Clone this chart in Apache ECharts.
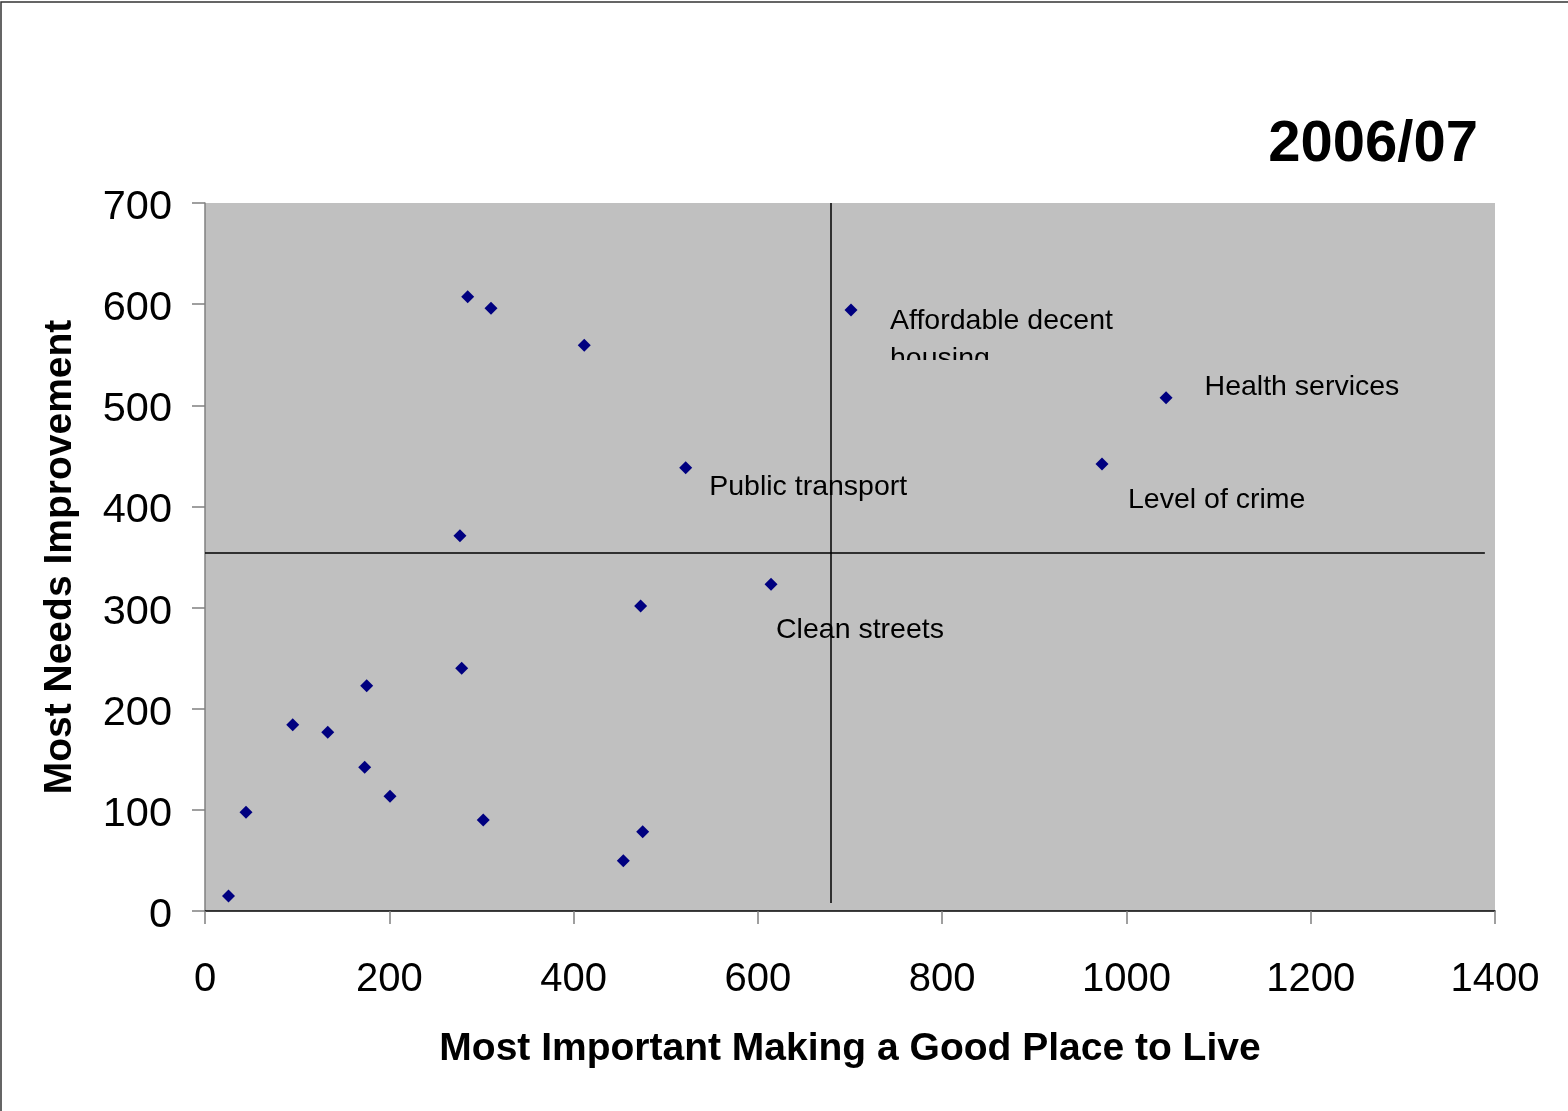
<!DOCTYPE html>
<html>
<head>
<meta charset="utf-8">
<script src="https://cdn.jsdelivr.net/npm/echarts@6/dist/echarts.min.js"></script>
<style>
html,body{margin:0;padding:0;background:#fff;}
#chart{width:1568px;height:1111px;}
</style>
</head>
<body>
<div id="chart"></div>
<script>
// ---- data ----
const xValues = [25.5, 44.5, 95.2, 133.2, 173.3, 175.5, 200.8, 276.7, 278.6, 285.1, 302.0, 310.4, 411.6, 454.0, 472.8, 475.0, 521.7, 614.3, 701.1, 973.5, 1043.0];
const yValues = [14.8, 97.6, 184.2, 176.7, 142.1, 222.8, 113.4, 371.1, 240.0, 607.4, 90.0, 595.9, 559.3, 49.7, 301.6, 78.4, 438.3, 323.0, 594.2, 442.0, 507.5];
const pointNames = ['', '', '', '', '', '', '', '', '', '', '', '', '', '', '', '', 'Public transport', 'Clean streets', 'Affordable decent\nhousing', 'Level of crime', 'Health services'];
const xTicks = [0, 200, 400, 600, 800, 1000, 1200, 1400];
const yTicks = [0, 100, 200, 300, 400, 500, 600, 700];
const refX = 679.6;   // vertical divider
const refY = 354;     // horizontal divider
const titleText = '2006/07';
const xTitle = 'Most Important Making a Good Place to Live';
const yTitle = 'Most Needs Improvement';

// ---- styling ----
const FONT = '"Liberation Sans", Arial, sans-serif';
const labelOffsets = {
  'Public transport': [17, 19],
  'Clean streets': [-1.5, 46],
  'Level of crime': [19.5, 36],
  'Health services': [32, -10.5]
};

const scatterData = xValues.map((x, i) => {
  const name = pointNames[i];
  const item = { value: [x, yValues[i]], name: name };
  if (name && labelOffsets[name]) {
    item.label = {
      show: true,
      position: 'right',
      distance: 0,
      offset: labelOffsets[name],
      formatter: '{b}',
      fontSize: 28.5,
      fontFamily: FONT,
      color: '#000'
    };
  }
  return item;
});

const clippedIdx = pointNames.indexOf('Affordable decent\nhousing');

const chart = echarts.init(document.getElementById('chart'), null, { renderer: 'canvas' });
chart.setOption({
  animation: false,
  backgroundColor: '#fff',
  textStyle: { fontFamily: FONT },
  graphic: [
    {
      type: 'rect', silent: true, z: 100,
      shape: { x: 1, y: 2, width: 1700, height: 1300 },
      style: { fill: 'none', stroke: '#333', lineWidth: 1.5 }
    },
    {
      type: 'text', right: 90, top: 116,
      style: { text: titleText, font: 'bold 58px ' + FONT, fill: '#000' }
    }
  ],
  grid: { left: 205, top: 203, right: 73, bottom: 200, show: true, backgroundColor: '#C0C0C0', borderWidth: 0 },
  xAxis: {
    type: 'value', min: xTicks[0], max: xTicks[xTicks.length - 1], interval: 200,
    name: xTitle, nameLocation: 'middle', nameGap: 119,
    nameTextStyle: { fontSize: 39, fontWeight: 'bold', color: '#000', fontFamily: FONT },
    axisLine: { show: true, onZero: false, lineStyle: { color: '#000', width: 1.5 } },
    axisTick: { show: true, length: 13, lineStyle: { color: '#808080', width: 1.5 } },
    axisLabel: { fontSize: 40, color: '#000', margin: 49, fontFamily: FONT, formatter: function (v) { return String(v); } },
    splitLine: { show: false }
  },
  yAxis: {
    type: 'value', min: yTicks[0], max: yTicks[yTicks.length - 1], interval: 100,
    name: yTitle, nameLocation: 'middle', nameGap: 125,
    nameTextStyle: { fontSize: 39, fontWeight: 'bold', color: '#000', fontFamily: FONT },
    axisLine: { show: true, onZero: false, lineStyle: { color: '#808080', width: 1.5 } },
    axisTick: { show: true, length: 13, lineStyle: { color: '#808080', width: 1.5 } },
    axisLabel: {
      color: '#000', margin: 33, fontFamily: FONT,
      formatter: function (v) { return '{t|' + v + '}'; },
      rich: { t: { fontSize: 41.5, fontFamily: FONT, color: '#000', padding: [9, 0, 0, 0] } }
    },
    splitLine: { show: false }
  },
  series: [
    {
      type: 'scatter',
      symbol: 'diamond',
      symbolSize: 13,
      clip: false,
      itemStyle: { color: '#000080', opacity: 1 },
      data: scatterData,
      z: 3,
      markLine: {
        silent: true,
        symbol: 'none',
        label: { show: false },
        lineStyle: { color: '#000', width: 1.5, type: 'solid', opacity: 1 },
        data: [
          [{ coord: [refX, yTicks[yTicks.length - 1]] }, { coord: [refX, 8] }],
          [{ coord: [0, refY] }, { coord: [1389, refY] }]
        ]
      }
    },
    {
      type: 'custom',
      coordinateSystem: 'cartesian2d',
      silent: true,
      z: 4,
      data: [[xValues[clippedIdx], yValues[clippedIdx]]],
      encode: { x: 0, y: 1 },
      renderItem: function (params, api) {
        const pt = api.coord([api.value(0), api.value(1)]);
        return {
          type: 'text',
          x: pt[0] + 39,
          y: pt[1] - 8,
          style: {
            text: pointNames[clippedIdx],
            fontSize: 28.5,
            fontFamily: FONT,
            lineHeight: 38,
            fill: '#000',
            textAlign: 'left',
            textVerticalAlign: 'top'
          },
          clipPath: { type: 'rect', shape: { x: -5, y: -5, width: 400, height: 63 } }
        };
      }
    }
  ]
});
</script>
</body>
</html>
